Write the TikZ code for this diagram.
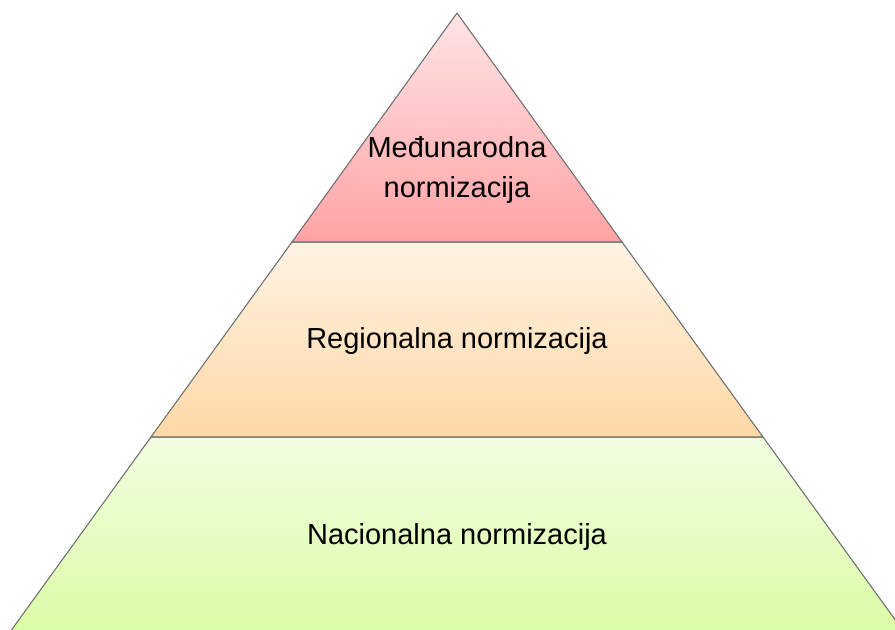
\documentclass[tikz,border=0pt]{standalone}
\usepackage{fontspec}
\setmainfont{Liberation Sans}
\usetikzlibrary{positioning}
\definecolor{redtop}{HTML}{FFE4E6}
\definecolor{redbot}{HTML}{FFA3A4}
\definecolor{orangetop}{HTML}{FFF3E3}
\definecolor{orangebot}{HTML}{FFD8A6}
\definecolor{greentop}{HTML}{F2FDE0}
\definecolor{greenbot}{HTML}{DAFCA6}
\definecolor{edgegray}{HTML}{6E6E6E}
\tikzset{band/.style={draw=edgegray, line width=0.8pt, line join=round},
	label/.style={inner sep=0pt, align=center, font=\fontsize{21.75}{30}\selectfont}}

\begin{document}
\begin{tikzpicture}[x=0.75pt, y=-0.75pt]
		\useasboundingbox (0,0) rectangle (895,630);
		\clip (0,0) rectangle (895,630);
		
		%corners
		\coordinate (apex) at (457,13);
		\coordinate (l1) at (292,242);
		\coordinate (r1) at (622,242);
		\coordinate (l2) at (151,437);
		\coordinate (r2) at (763,437);
		\coordinate (l3) at (10,632);
		\coordinate (r3) at (904,632);
		
		%bands
		\shade[band, top color=greentop, bottom color=greenbot] (l2) -- (r2) -- (r3) -- (l3) -- cycle;
		\shade[band, top color=orangetop, bottom color=orangebot] (l1) -- (r1) -- (r2) -- (l2) -- cycle;
		\shade[band, top color=redtop, bottom color=redbot] (apex) -- (r1) -- (l1) -- cycle;
		
		%labels
		\node[label] (intl) at (457,170) {Međunarodna\\normizacija};
		\node[label, anchor=base] (regional) at (457,349) {Regionalna normizacija};
		\node[label, anchor=base] (national) at (457,544) {Nacionalna normizacija};
\end{tikzpicture}
\end{document}
